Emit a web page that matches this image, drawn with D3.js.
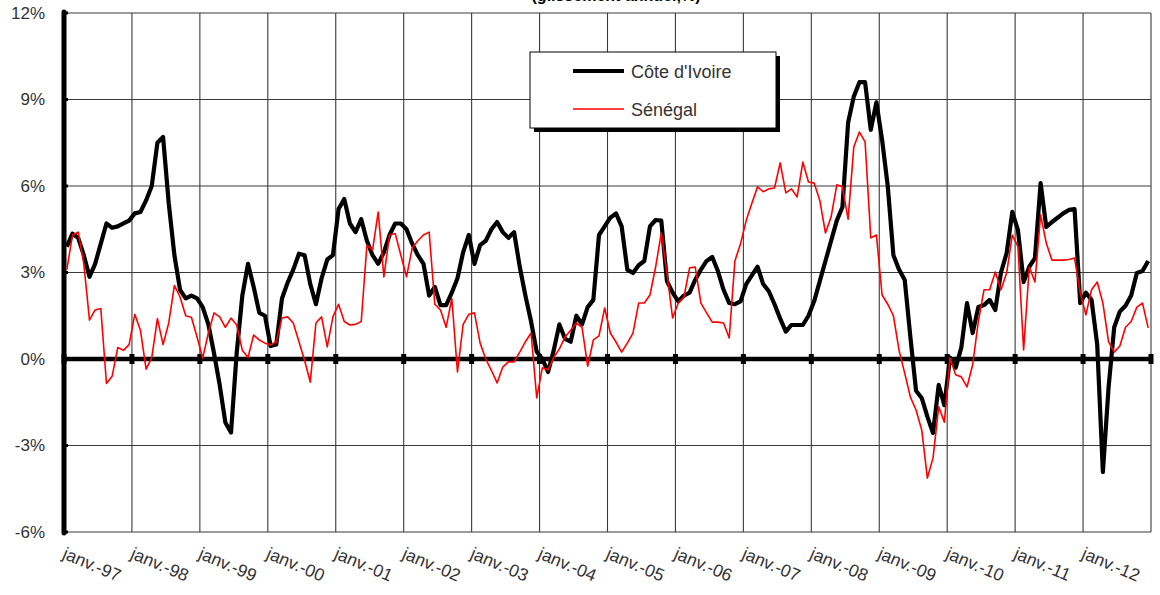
<!DOCTYPE html>
<html><head><meta charset="utf-8">
<script src="https://cdn.jsdelivr.net/npm/d3@7"></script>
<style>body{margin:0;background:#fff}svg{display:block;font-family:"Liberation Sans",Arial,sans-serif}</style>
</head><body>
<svg id="c" width="1160" height="595"></svg>
<script>
const title = "(glissement annuel,%)";
const seriesNames = ["Côte d'Ivoire", "Sénégal"];
const yearLabels = ["janv.-97","janv.-98","janv.-99","janv.-00","janv.-01","janv.-02","janv.-03","janv.-04","janv.-05","janv.-06","janv.-07","janv.-08","janv.-09","janv.-10","janv.-11","janv.-12"];
const yTicks = [-6,-3,0,3,6,9,12];
// monthly values, janv. 1997 – déc. 2012 (%)
const coteIvoire = [
3.9,4.35,4.2,3.6,2.85,3.3,4.0,4.7,4.55,4.6,4.7,4.8,
5.05,5.1,5.5,6.0,7.5,7.7,5.4,3.6,2.4,2.1,2.2,2.1,
1.8,1.2,0.2,-0.9,-2.2,-2.55,0.2,2.2,3.3,2.5,1.6,1.5,
0.45,0.5,2.1,2.65,3.1,3.65,3.6,2.6,1.9,2.8,3.45,3.6,
5.2,5.55,4.7,4.4,4.85,4.1,3.6,3.3,3.7,4.3,4.7,4.7,
4.5,4.0,3.6,3.3,2.2,2.5,1.87,1.87,2.3,2.8,3.7,4.3,
3.3,3.95,4.1,4.5,4.75,4.4,4.2,4.4,3.2,2.2,1.3,0.25,
0.0,-0.45,0.3,1.2,0.7,0.6,1.5,1.2,1.8,2.05,4.3,4.6,
4.9,5.05,4.6,3.1,2.98,3.25,3.4,4.6,4.82,4.8,2.7,2.3,
2.0,2.2,2.3,2.75,3.1,3.4,3.54,3.05,2.4,1.94,1.9,2.0,
2.6,2.9,3.2,2.6,2.35,1.9,1.4,0.95,1.18,1.18,1.18,1.5,
2.0,2.7,3.4,4.1,4.8,5.27,8.2,9.1,9.6,9.6,7.95,8.9,
7.6,6.0,3.6,3.1,2.74,0.76,-1.1,-1.35,-2.0,-2.57,-0.9,-1.6,
0.05,-0.3,0.4,1.94,0.9,1.8,1.87,2.05,1.7,3.0,3.67,5.1,
4.47,2.67,3.2,3.5,6.1,4.58,4.75,4.9,5.05,5.17,5.2,1.94,
2.3,2.05,0.5,-3.92,-1.0,1.1,1.65,1.85,2.2,2.98,3.05,3.4
];
const senegal = [
3.1,4.3,4.4,3.3,1.35,1.7,1.75,-0.85,-0.6,0.4,0.3,0.5,
1.55,1.0,-0.35,0.05,1.4,0.5,1.25,2.55,2.15,1.5,1.45,0.76,
0.03,0.9,1.6,1.46,1.1,1.42,1.18,0.3,0.05,0.83,0.66,0.55,
0.49,0.6,1.42,1.46,1.25,0.6,-0.05,-0.8,1.25,1.46,0.42,1.46,
1.9,1.3,1.18,1.2,1.3,3.95,3.78,5.1,2.85,4.3,4.35,3.6,
2.85,3.85,4.1,4.3,4.4,1.9,1.7,1.1,2.1,-0.45,1.2,1.55,
1.6,0.55,0.0,-0.4,-0.83,-0.28,-0.1,-0.1,0.24,0.6,0.9,-1.35,
-0.3,-0.38,0.05,0.35,0.76,1.0,1.25,1.1,-0.25,0.66,0.8,1.77,
0.9,0.59,0.24,0.55,0.9,1.94,1.94,2.22,3.19,4.37,2.98,1.42,
1.94,2.15,3.16,3.19,1.94,1.6,1.28,1.28,1.25,0.73,3.4,4.0,
4.8,5.4,5.97,5.8,5.9,5.93,6.8,5.76,5.9,5.62,6.83,6.14,
6.1,5.5,4.37,4.93,6.04,5.97,4.85,7.35,7.87,7.53,4.2,4.3,
2.22,1.9,1.5,0.3,-0.5,-1.32,-1.77,-2.46,-4.13,-3.43,-1.66,-2.19,
0.03,-0.55,-0.62,-0.97,-0.2,1.3,2.4,2.4,3.02,2.4,2.98,4.3,
3.9,0.31,3.19,2.67,5.0,4.02,3.43,3.43,3.43,3.45,3.5,2.29,
1.53,2.4,2.67,1.94,0.6,0.24,0.45,1.1,1.3,1.8,1.94,1.08
];

const svg = d3.select("#c");
const L = 64, R = 1151, T = 13, B = 532;
const nMonths = yearLabels.length * 12;
const x = d3.scaleLinear().domain([0, nMonths]).range([L, R]);
const y = d3.scaleLinear().domain([-6, 12]).range([B, T]);
const yearIdx = d3.range(0, nMonths + 1, 12);

svg.append("rect").attr("width",1160).attr("height",595).attr("fill","#fff");

// title (its upper part lies above the picture, as in the original)
svg.append("text").attr("x", 616).attr("y", 1).attr("text-anchor","middle")
  .attr("font-size", 16).attr("font-weight","bold").attr("fill","#000").text(title);

// gridlines
const grid = svg.append("g").attr("stroke","#3a3a3a").attr("stroke-width",1.1);
grid.selectAll("line.v").data(yearIdx).join("line")
  .attr("x1", d=>x(d)).attr("x2", d=>x(d)).attr("y1", T).attr("y2", B);
grid.selectAll("line.h").data(yTicks).join("line")
  .attr("x1", L).attr("x2", R).attr("y1", d=>y(d)).attr("y2", d=>y(d));

// y axis
const yAxis = d3.axisLeft(y).tickValues(yTicks).tickSize(0).tickPadding(19)
  .tickFormat(d => d + "%");
const gy = svg.append("g").attr("transform", `translate(${L},0)`).call(yAxis);
gy.select(".domain").remove();
gy.selectAll("text").attr("font-size", 17).attr("fill", "#333")
  .attr("font-family", '"Liberation Sans",Arial,sans-serif');
svg.append("g").selectAll("line").data(yTicks).join("line")
  .attr("x1", L).attr("x2", L + 4).attr("y1", d=>y(d)).attr("y2", d=>y(d))
  .attr("stroke","#000").attr("stroke-width",3);
svg.append("line").attr("x1", L).attr("x2", L).attr("y1", T - 1).attr("y2", B + 1)
  .attr("stroke","#000").attr("stroke-width",5).attr("stroke-linecap","round");

// x labels at bottom
const xAxis = d3.axisBottom(x).tickValues(yearIdx.slice(0, yearLabels.length))
  .tickSize(0).tickFormat((d,i) => yearLabels[i]);
const gx = svg.append("g").attr("transform", `translate(0,${B})`).call(xAxis);
gx.select(".domain").remove();
gx.selectAll("text")
  .attr("font-size", 17.5).attr("fill", "#333").attr("text-anchor","start")
  .attr("font-family", '"Liberation Sans",Arial,sans-serif')
  .attr("dy", null).attr("y", null)
  .attr("transform", "translate(-3,26) rotate(23)");

// series
const line = d3.line().x((d,i) => x(i + 0.5)).y(d => y(d));

// zero line with ticks
svg.append("line").attr("x1", L).attr("x2", R).attr("y1", y(0)).attr("y2", y(0))
  .attr("stroke","#000").attr("stroke-width",4.5);
svg.append("g").selectAll("rect").data(yearIdx).join("rect")
  .attr("x", d => x(d) - 2.5).attr("y", y(0) - 5).attr("width",5).attr("height",10)
  .attr("fill","#000");

svg.append("path").datum(coteIvoire).attr("d", line)
  .attr("fill","none").attr("stroke","#000").attr("stroke-width",4.2)
  .attr("stroke-linejoin","round");
svg.append("path").datum(senegal).attr("d", line)
  .attr("fill","none").attr("stroke","#ff0000").attr("stroke-width",1.6)
  .attr("stroke-linejoin","round");

// legend
const lg = svg.append("g");
lg.append("rect").attr("x",534).attr("y",56).attr("width",246).attr("height",76).attr("fill","#000");
lg.append("rect").attr("x",530).attr("y",52).attr("width",246).attr("height",76)
  .attr("fill","#fff").attr("stroke","#000").attr("stroke-width",1);
const colors = ["#000","#ff0000"], widths = [4.2,1.6], ly = [71,109];
seriesNames.forEach((n,i) => {
  lg.append("line").attr("x1",573).attr("x2",624).attr("y1",ly[i]).attr("y2",ly[i])
    .attr("stroke",colors[i]).attr("stroke-width",widths[i]);
  lg.append("text").attr("x",631).attr("y",ly[i]+6.5).attr("font-size",18)
    .attr("fill","#333").text(n);
});
</script>
</body></html>
